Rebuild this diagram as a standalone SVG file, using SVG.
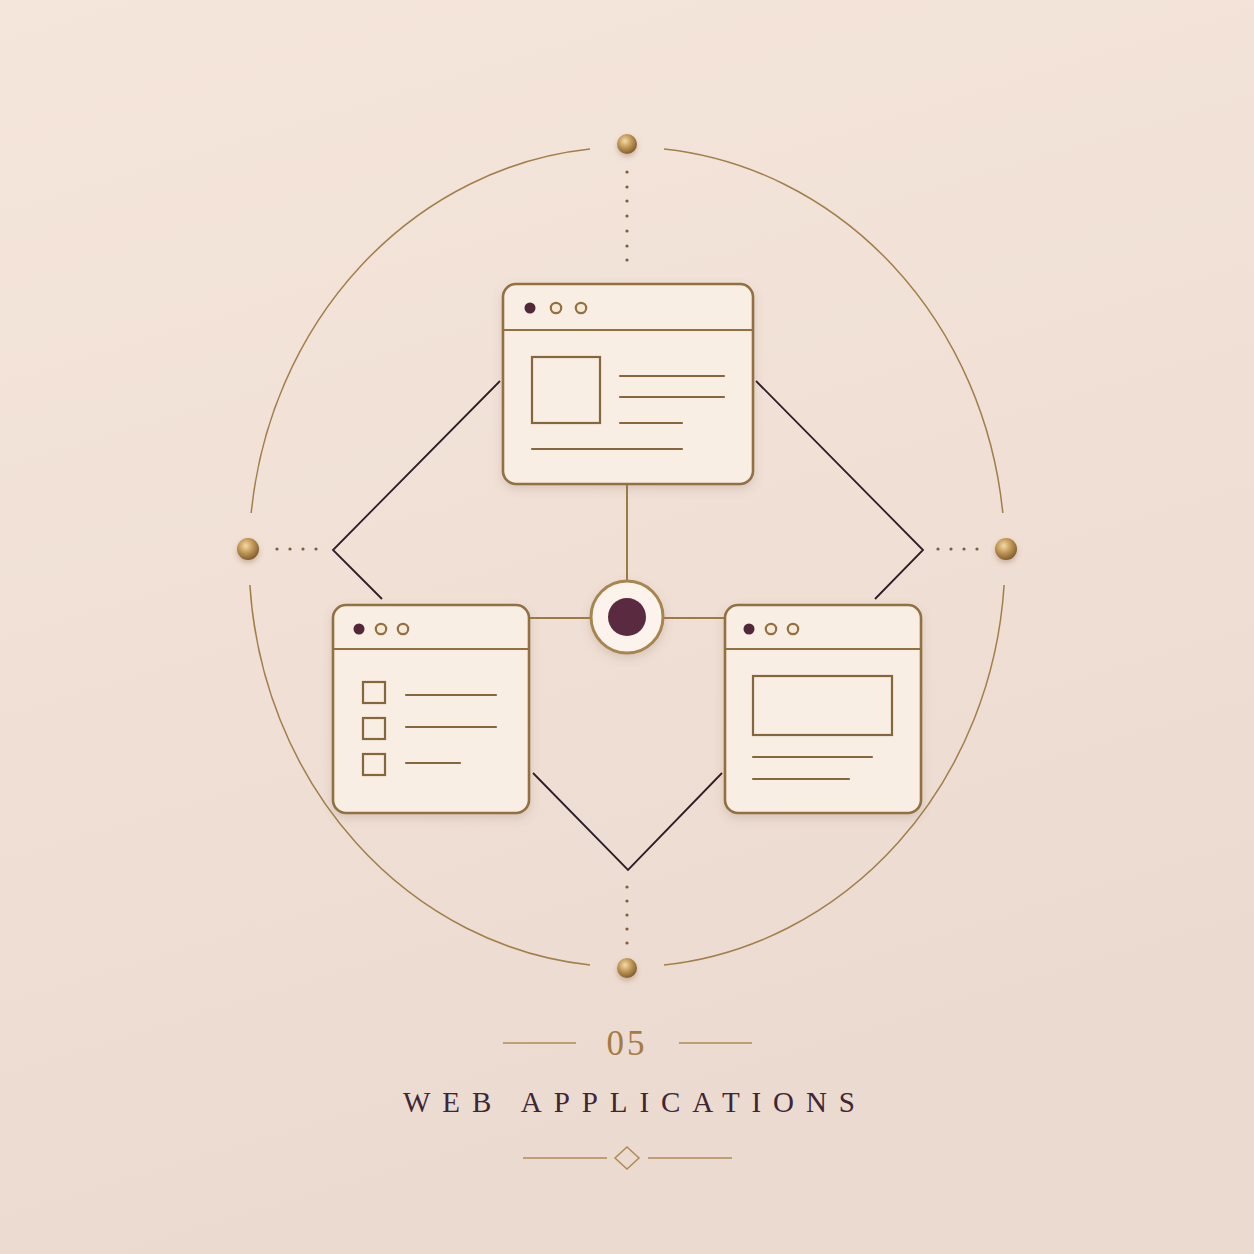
<svg xmlns="http://www.w3.org/2000/svg" width="1254" height="1254" viewBox="0 0 1254 1254">
<defs>
<linearGradient id="bg" x1="0" y1="0" x2="0.3" y2="1">
<stop offset="0" stop-color="#f5e6dc"/>
<stop offset="1" stop-color="#ebdad0"/>
</linearGradient>
<radialGradient id="ball" cx="0.4" cy="0.35" r="0.7">
<stop offset="0" stop-color="#f3dba6"/>
<stop offset="0.45" stop-color="#c39a5a"/>
<stop offset="1" stop-color="#7a5628"/>
</radialGradient>
<filter id="sh" x="-20%" y="-20%" width="140%" height="150%">
<feDropShadow dx="0" dy="4" stdDeviation="5" flood-color="#8a6a55" flood-opacity="0.22"/>
</filter>
<filter id="bsh" x="-60%" y="-60%" width="220%" height="240%">
<feDropShadow dx="0" dy="3" stdDeviation="2.5" flood-color="#7a5030" flood-opacity="0.3"/>
</filter>
</defs>
<style>
.win{fill:#f9eee4;stroke:#927040;stroke-width:2.6}
.sep{stroke:#927040;stroke-width:2.2;fill:none}
.ln{stroke:#86673b;stroke-width:2.2;stroke-linecap:round;fill:none}
.box{fill:none;stroke:#86673b;stroke-width:2.2}
.dk{fill:#512739}
.op{fill:#f6e9d8;stroke:#927040;stroke-width:2.2}
.con{stroke:#2c1d27;stroke-width:1.8;fill:none;stroke-linejoin:miter}
.gcon{stroke:#9c7a48;stroke-width:2;fill:none}
.orb{stroke:#a27f48;stroke-width:1.5;fill:none}
.dot{fill:#7d5f40}
.ball{fill:url(#ball)}
</style>
<rect width="1254" height="1254" fill="url(#bg)"/>

<g id="orbit">
<path class="orb" d="M 664 149 A 378 410 0 0 1 1002.8 513"/>
<path class="orb" d="M 1004.1 585 A 378 410 0 0 1 664 965"/>
<path class="orb" d="M 590 965 A 378 410 0 0 1 249.9 585"/>
<path class="orb" d="M 251.2 513 A 378 410 0 0 1 590 149"/>
</g>

<g id="dots">
<g class="dot">
<circle cx="627" cy="172" r="1.6"/><circle cx="627" cy="187" r="1.6"/><circle cx="627" cy="201" r="1.6"/><circle cx="627" cy="216" r="1.6"/><circle cx="627" cy="231" r="1.6"/><circle cx="627" cy="246" r="1.6"/><circle cx="627" cy="260" r="1.6"/>
<circle cx="627" cy="887" r="1.6"/><circle cx="627" cy="901" r="1.6"/><circle cx="627" cy="915" r="1.6"/><circle cx="627" cy="929" r="1.6"/><circle cx="627" cy="943" r="1.6"/>
<circle cx="277" cy="549" r="1.6"/><circle cx="290" cy="549" r="1.6"/><circle cx="303" cy="549" r="1.6"/><circle cx="316" cy="549" r="1.6"/>
<circle cx="938" cy="549" r="1.6"/><circle cx="951" cy="549" r="1.6"/><circle cx="964" cy="549" r="1.6"/><circle cx="977" cy="549" r="1.6"/>
</g>
</g>

<g id="balls" filter="url(#bsh)">
<circle class="ball" cx="627" cy="144" r="10"/>
<circle class="ball" cx="248" cy="549" r="11"/>
<circle class="ball" cx="1006" cy="549" r="11"/>
<circle class="ball" cx="627" cy="968" r="10"/>
</g>

<g id="connectors">
<polyline class="con" points="500,381 333,550 382,599"/>
<polyline class="con" points="756,381 923,550 875,599"/>
<polyline class="con" points="533,773 628,870 722,773"/>
<line class="gcon" x1="627" y1="485" x2="627" y2="581"/>
<line class="gcon" x1="530" y1="618" x2="591" y2="618"/>
<line class="gcon" x1="663" y1="618" x2="725" y2="618"/>
</g>

<g id="hub">
<circle cx="627" cy="617" r="36" fill="#fbf3ec" stroke="#a8854f" stroke-width="3" filter="url(#sh)"/>
<circle cx="627" cy="617" r="19" fill="#5a2a41"/>
</g>

<g id="win-top">
<rect class="win" x="503" y="284" width="250" height="200" rx="13" filter="url(#sh)"/>
<line class="sep" x1="503" y1="330" x2="753" y2="330"/>
<circle class="dk" cx="530" cy="308" r="5.5"/>
<circle class="op" cx="556" cy="308" r="5.2"/>
<circle class="op" cx="581" cy="308" r="5.2"/>
<rect class="box" x="532" y="357" width="68" height="66"/>
<line class="ln" x1="620" y1="376" x2="724" y2="376"/>
<line class="ln" x1="620" y1="397" x2="724" y2="397"/>
<line class="ln" x1="620" y1="423" x2="682" y2="423"/>
<line class="ln" x1="532" y1="449" x2="682" y2="449"/>
</g>

<g id="win-left">
<rect class="win" x="333" y="605" width="196" height="208" rx="13" filter="url(#sh)"/>
<line class="sep" x1="333" y1="649" x2="529" y2="649"/>
<circle class="dk" cx="359" cy="629" r="5.5"/>
<circle class="op" cx="381" cy="629" r="5.2"/>
<circle class="op" cx="403" cy="629" r="5.2"/>
<rect class="box" x="363" y="682" width="22" height="21"/>
<rect class="box" x="363" y="718" width="22" height="21"/>
<rect class="box" x="363" y="754" width="22" height="21"/>
<line class="ln" x1="406" y1="695" x2="496" y2="695"/>
<line class="ln" x1="406" y1="727" x2="496" y2="727"/>
<line class="ln" x1="406" y1="763" x2="460" y2="763"/>
</g>

<g id="win-right">
<rect class="win" x="725" y="605" width="196" height="208" rx="13" filter="url(#sh)"/>
<line class="sep" x1="725" y1="649" x2="921" y2="649"/>
<circle class="dk" cx="749" cy="629" r="5.5"/>
<circle class="op" cx="771" cy="629" r="5.2"/>
<circle class="op" cx="793" cy="629" r="5.2"/>
<rect class="box" x="753" y="676" width="139" height="59"/>
<line class="ln" x1="753" y1="757" x2="872" y2="757"/>
<line class="ln" x1="753" y1="779" x2="849" y2="779"/>
</g>

<g id="title">
<line x1="503" y1="1043" x2="576" y2="1043" stroke="#b08a52" stroke-width="1.5"/>
<line x1="679" y1="1043" x2="752" y2="1043" stroke="#b08a52" stroke-width="1.5"/>
<text x="627" y="1055" text-anchor="middle" font-family="'Liberation Serif', serif" font-size="35" fill="#a47b42" letter-spacing="3">05</text>
<text x="403" y="1112" font-family="'Liberation Serif', serif" font-size="29" fill="#3f2634" textLength="452" lengthAdjust="spacing">WEB APPLICATIONS</text>
<line x1="523" y1="1158" x2="607" y2="1158" stroke="#b08a52" stroke-width="1.5"/>
<line x1="648" y1="1158" x2="732" y2="1158" stroke="#b08a52" stroke-width="1.5"/>
<polygon points="627,1147 639,1158 627,1169 615,1158" fill="none" stroke="#b08a52" stroke-width="1.5"/>
</g>
</svg>
